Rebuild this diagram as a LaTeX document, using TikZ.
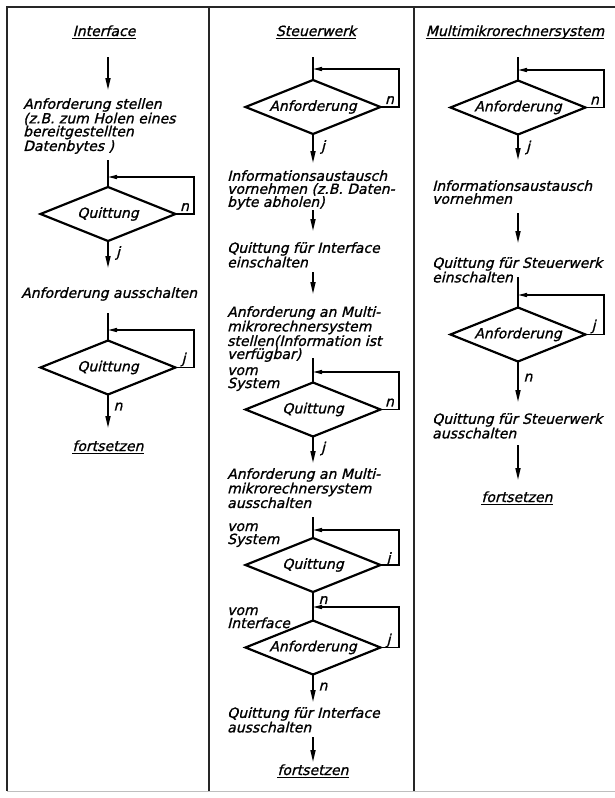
\documentclass[tikz,border=0pt]{standalone}
\usepackage{fontspec}
\newfontfamily\lettering{DejaVu Sans}[FakeSlant=0.25,FakeBold=1.2]
\usetikzlibrary{shapes.geometric,arrows.meta,calc}

\tikzset{
  frame/.style={line width=1.8pt, draw=black!85},
  faint/.style={line width=0.8pt, draw=black!25},
  dia/.style={shape=diamond, draw, line width=2.2pt, aspect=2.5,
    minimum width=135pt, minimum height=54pt, inner sep=0pt, outer sep=0pt,
    font=\fontsize{14}{13}\selectfont\lettering},
  txt/.style={anchor=north west, align=left, inner sep=0pt,
    font=\fontsize{14}{13}\selectfont\lettering},
  title/.style={anchor=base, inner sep=0pt,
    font=\fontsize{14}{13}\selectfont\lettering},
  lab/.style={inner sep=0pt, font=\fontsize{14}{13}\selectfont\lettering},
  rule/.style={line width=1.1pt},
  flow/.style={line width=1.6pt, -{Triangle[length=12pt,width=5pt]}},
  plain/.style={line width=1.6pt},
  back/.style={line width=1.3pt, -{Triangle[length=9pt,width=4pt]}},
}

\begin{document}
\begin{tikzpicture}[x=1pt,y=-1pt]
\useasboundingbox (0,0) rectangle (615,798);

% ---------- frame and column rules ----------
\draw[frame] (615,7) -- (7,7) -- (7,791);
\draw[frame] (209,7) -- (209,792);
\draw[frame] (414,7) -- (414,792);
\draw[faint] (7,791) -- (615,791);

% ================= Interface =================
\node[title] (h1) at (104,36) {Interface};
\draw[rule] ($(h1.base west)+(0,2.5)$) -- ($(h1.base east)+(0,2.5)$);

\coordinate (a1s) at (108,57);
\coordinate (a1e) at (108,90);
\draw[flow] (a1s) -- (a1e);

\node[txt] (x1a) at (23,98) {Anforderung stellen\\(z.B. zum Holen eines\\bereitgestellten\\Datenbytes )};

\node[dia] (q1a) at (108,214) {Quittung};
\coordinate (l1a) at (108,160);
\coordinate (j1a) at (108,177);
\coordinate (r1a) at (194,177);
\draw[plain] (l1a) -- (q1a.north);
\draw[back] (q1a.east) -| (r1a) -- (j1a);
\node[lab] (n1a) at ($(q1a.east)+(9,-7)$) {n};
\coordinate (a1b) at (108,268);
\draw[flow] (q1a.south) -- (a1b);
\node[lab] (y1a) at ($(q1a.south)+(10,12)$) {j};

\node[txt] (x1b) at (21,287) {Anforderung ausschalten};

\node[dia] (q1b) at (108,367.5) {Quittung};
\coordinate (l1b) at (108,313);
\coordinate (j1b) at (108,330);
\coordinate (r1b) at (194,330);
\draw[plain] (l1b) -- (q1b.north);
\draw[back] (q1b.east) -| (r1b) -- (j1b);
\node[lab] (y1b) at ($(q1b.east)+(8,-8)$) {j};
\coordinate (a1c) at (108,428);
\draw[flow] (q1b.south) -- (a1c);
\node[lab] (n1b) at ($(q1b.south)+(10,12)$) {n};

\node[title] (f1) at (108,451) {fortsetzen};
\draw[rule] ($(f1.base west)+(0,2.5)$) -- ($(f1.base east)+(0,2.5)$);

% ================= Steuerwerk =================
\node[title] (h2) at (316,36) {Steuerwerk};
\draw[rule] ($(h2.base west)+(0,2.5)$) -- ($(h2.base east)+(0,2.5)$);

\node[dia] (q2a) at (313,107) {Anforderung};
\coordinate (l2a) at (313,57);
\coordinate (j2a) at (313,69);
\coordinate (r2a) at (399,69);
\draw[plain] (l2a) -- (q2a.north);
\draw[back] (q2a.east) -| (r2a) -- (j2a);
\node[lab] (n2a) at ($(q2a.east)+(9,-7)$) {n};
\coordinate (a2a) at (313,163);
\draw[flow] (q2a.south) -- (a2a);
\node[lab] (y2a) at ($(q2a.south)+(10,13)$) {j};

\node[txt] (x2a) at (227,170) {Informationsaustausch\\vornehmen (z.B. Daten-\\byte abholen)};
\coordinate (a2bs) at (313,210);
\coordinate (a2be) at (313,231);
\draw[flow] (a2bs) -- (a2be);

\node[txt] (x2b) at (227,242) {Quittung für Interface\\einschalten};
\coordinate (a2cs) at (313,272);
\coordinate (a2ce) at (313,294);
\draw[flow] (a2cs) -- (a2ce);

\node[txt] (x2c) at (227,306) {Anforderung an Multi-\\mikrorechnersystem\\stellen(Information ist\\verfügbar)};

\node[txt] (v2a) at (227,367) {vom\\System};
\node[dia] (q2b) at (313,409.5) {Quittung};
\coordinate (l2b) at (313,358);
\coordinate (j2b) at (313,372);
\coordinate (r2b) at (399,372);
\draw[plain] (l2b) -- (q2b.north);
\draw[back] (q2b.east) -| (r2b) -- (j2b);
\node[lab] (n2b) at ($(q2b.east)+(9,-7)$) {n};
\coordinate (a2d) at (313,463);
\draw[flow] (q2b.south) -- (a2d);
\node[lab] (y2b) at ($(q2b.south)+(10,12)$) {j};

\node[txt] (x2d) at (227,468) {Anforderung an Multi-\\mikrorechnersystem\\ausschalten};

\node[txt] (v2b) at (227,523) {vom\\System};
\node[dia] (q2c) at (313,565) {Quittung};
\coordinate (l2c) at (313,517);
\coordinate (j2c) at (313,530);
\coordinate (r2c) at (399,530);
\draw[plain] (l2c) -- (q2c.north);
\draw[back] (q2c.east) -| (r2c) -- (j2c);
\node[lab] (y2c) at ($(q2c.east)+(8,-6)$) {j};

\node[txt] (v2c) at (227,607) {vom\\Interface};
\node[dia] (q2d) at (313,647.5) {Anforderung};
\draw[plain] (q2c.south) -- (q2d.north);
\node[lab] (n2c) at ($(q2c.south)+(10,8)$) {n};
\coordinate (j2d) at (313,607);
\coordinate (r2d) at (399,607);
\draw[back] (q2d.east) -| (r2d) -- (j2d);
\node[lab] (y2d) at ($(q2d.east)+(8,-7)$) {j};
\coordinate (a2e) at (313,702);
\draw[flow] (q2d.south) -- (a2e);
\node[lab] (n2d) at ($(q2d.south)+(10,12)$) {n};

\node[txt] (x2e) at (227,707) {Quittung für Interface\\ausschalten};
\coordinate (a2fs) at (313,737);
\coordinate (a2fe) at (313,762);
\draw[flow] (a2fs) -- (a2fe);

\node[title] (f2) at (313,775) {fortsetzen};
\draw[rule] ($(f2.base west)+(0,2.5)$) -- ($(f2.base east)+(0,2.5)$);

% ================= Multimikrorechnersystem =================
\node[title] (h3) at (515,36) {Multimikrorechnersystem};
\draw[rule] ($(h3.base west)+(0,2.5)$) -- ($(h3.base east)+(0,2.5)$);

\node[dia] (q3a) at (518,107.5) {Anforderung};
\coordinate (l3a) at (518,57);
\coordinate (j3a) at (518,70);
\coordinate (r3a) at (604,70);
\draw[plain] (l3a) -- (q3a.north);
\draw[back] (q3a.east) -| (r3a) -- (j3a);
\node[lab] (n3a) at ($(q3a.east)+(9,-7)$) {n};
\coordinate (a3a) at (518,160);
\draw[flow] (q3a.south) -- (a3a);
\node[lab] (y3a) at ($(q3a.south)+(10,13)$) {j};

\node[txt] (x3a) at (432,180) {Informationsaustausch\\vornehmen};
\coordinate (a3bs) at (518,213);
\coordinate (a3be) at (518,243);
\draw[flow] (a3bs) -- (a3be);

\node[txt] (x3b) at (432,257) {Quittung für Steuerwerk\\einschalten};

\node[dia] (q3b) at (518,334.5) {Anforderung};
\coordinate (l3b) at (518,277);
\coordinate (j3b) at (518,295);
\coordinate (r3b) at (604,295);
\draw[plain] (l3b) -- (q3b.north);
\draw[back] (q3b.east) -| (r3b) -- (j3b);
\node[lab] (y3b) at ($(q3b.east)+(8,-8)$) {j};
\coordinate (a3c) at (518,402);
\draw[flow] (q3b.south) -- (a3c);
\node[lab] (n3b) at ($(q3b.south)+(10,16)$) {n};

\node[txt] (x3c) at (432,413) {Quittung für Steuerwerk\\ausschalten};
\coordinate (a3ds) at (518,445);
\coordinate (a3de) at (518,480);
\draw[flow] (a3ds) -- (a3de);

\node[title] (f3) at (517,502) {fortsetzen};
\draw[rule] ($(f3.base west)+(0,2.5)$) -- ($(f3.base east)+(0,2.5)$);

\end{tikzpicture}
\end{document}
